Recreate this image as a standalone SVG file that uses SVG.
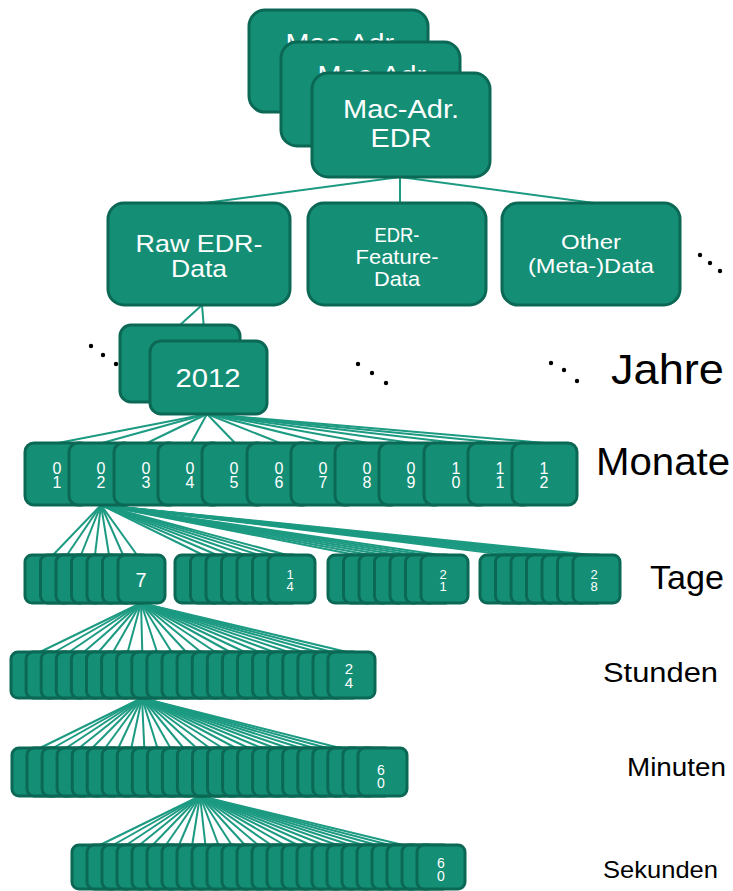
<svg xmlns="http://www.w3.org/2000/svg" width="733" height="891" viewBox="0 0 733 891">
  <style>
    .box { fill: #158e76; stroke: #0b6855; stroke-width: 3; }
    .ln { stroke: #1c9a82; stroke-width: 2; fill: none; }
    .w { fill: #ffffff; font-family: "Liberation Sans", Arial, sans-serif; text-anchor: middle; }
    .lbl { fill: #000000; font-family: "Liberation Sans", Arial, sans-serif; }
    .dot { fill: #000000; }
    /* two-digit numbers stacked one above the other */
    .v { writing-mode: vertical-rl; text-orientation: upright; letter-spacing: -3px; }
    .m { font-size: 16px; }
  </style>
  <rect width="733" height="891" fill="#ffffff"/>

  <!-- connectors -->
  <g id="connectors">
    <!-- root to data categories -->
    <line class="ln" x1="400" y1="177" x2="205" y2="203"/>
    <line class="ln" x1="400" y1="177" x2="400" y2="203"/>
    <line class="ln" x1="400" y1="177" x2="594" y2="203"/>
    <!-- raw data to years -->
    <line class="ln" x1="202" y1="305" x2="180" y2="325"/>
    <line class="ln" x1="202" y1="305" x2="205" y2="341"/>
    <!-- year to months -->
    <line class="ln" x1="207" y1="414" x2="58" y2="443"/>
    <line class="ln" x1="207" y1="414" x2="102" y2="443"/>
    <line class="ln" x1="207" y1="414" x2="147" y2="443"/>
    <line class="ln" x1="207" y1="414" x2="191" y2="443"/>
    <line class="ln" x1="207" y1="414" x2="235" y2="443"/>
    <line class="ln" x1="207" y1="414" x2="280" y2="443"/>
    <line class="ln" x1="207" y1="414" x2="324" y2="443"/>
    <line class="ln" x1="207" y1="414" x2="368" y2="443"/>
    <line class="ln" x1="207" y1="414" x2="412" y2="443"/>
    <line class="ln" x1="207" y1="414" x2="457" y2="443"/>
    <line class="ln" x1="207" y1="414" x2="501" y2="443"/>
    <line class="ln" x1="207" y1="414" x2="545" y2="443"/>
    <!-- month 02 to days -->
    <line class="ln" x1="101" y1="505" x2="53" y2="555"/>
    <line class="ln" x1="101" y1="505" x2="67" y2="555"/>
    <line class="ln" x1="101" y1="505" x2="81" y2="555"/>
    <line class="ln" x1="101" y1="505" x2="95" y2="555"/>
    <line class="ln" x1="101" y1="505" x2="109" y2="555"/>
    <line class="ln" x1="101" y1="505" x2="123" y2="555"/>
    <line class="ln" x1="101" y1="505" x2="137" y2="555"/>
    <line class="ln" x1="101" y1="505" x2="203" y2="555"/>
    <line class="ln" x1="101" y1="505" x2="217" y2="555"/>
    <line class="ln" x1="101" y1="505" x2="231" y2="555"/>
    <line class="ln" x1="101" y1="505" x2="245" y2="555"/>
    <line class="ln" x1="101" y1="505" x2="259" y2="555"/>
    <line class="ln" x1="101" y1="505" x2="273" y2="555"/>
    <line class="ln" x1="101" y1="505" x2="287" y2="555"/>
    <line class="ln" x1="101" y1="505" x2="356" y2="555"/>
    <line class="ln" x1="101" y1="505" x2="370" y2="555"/>
    <line class="ln" x1="101" y1="505" x2="384" y2="555"/>
    <line class="ln" x1="101" y1="505" x2="398" y2="555"/>
    <line class="ln" x1="101" y1="505" x2="412" y2="555"/>
    <line class="ln" x1="101" y1="505" x2="426" y2="555"/>
    <line class="ln" x1="101" y1="505" x2="440" y2="555"/>
    <line class="ln" x1="101" y1="505" x2="508" y2="555"/>
    <line class="ln" x1="101" y1="505" x2="522" y2="555"/>
    <line class="ln" x1="101" y1="505" x2="536" y2="555"/>
    <line class="ln" x1="101" y1="505" x2="550" y2="555"/>
    <line class="ln" x1="101" y1="505" x2="564" y2="555"/>
    <line class="ln" x1="101" y1="505" x2="578" y2="555"/>
    <line class="ln" x1="101" y1="505" x2="592" y2="555"/>
    <!-- day 7 to hours -->
    <line class="ln" x1="141" y1="603" x2="40" y2="652"/>
    <line class="ln" x1="141" y1="603" x2="54.6" y2="652"/>
    <line class="ln" x1="141" y1="603" x2="69.2" y2="652"/>
    <line class="ln" x1="141" y1="603" x2="83.9" y2="652"/>
    <line class="ln" x1="141" y1="603" x2="98.5" y2="652"/>
    <line class="ln" x1="141" y1="603" x2="113.1" y2="652"/>
    <line class="ln" x1="141" y1="603" x2="127.7" y2="652"/>
    <line class="ln" x1="141" y1="603" x2="142.3" y2="652"/>
    <line class="ln" x1="141" y1="603" x2="157" y2="652"/>
    <line class="ln" x1="141" y1="603" x2="171.6" y2="652"/>
    <line class="ln" x1="141" y1="603" x2="186.2" y2="652"/>
    <line class="ln" x1="141" y1="603" x2="200.8" y2="652"/>
    <line class="ln" x1="141" y1="603" x2="215.4" y2="652"/>
    <line class="ln" x1="141" y1="603" x2="230.1" y2="652"/>
    <line class="ln" x1="141" y1="603" x2="244.7" y2="652"/>
    <line class="ln" x1="141" y1="603" x2="259.3" y2="652"/>
    <line class="ln" x1="141" y1="603" x2="273.9" y2="652"/>
    <line class="ln" x1="141" y1="603" x2="288.5" y2="652"/>
    <line class="ln" x1="141" y1="603" x2="303.2" y2="652"/>
    <line class="ln" x1="141" y1="603" x2="317.8" y2="652"/>
    <line class="ln" x1="141" y1="603" x2="332.4" y2="652"/>
    <line class="ln" x1="141" y1="603" x2="347" y2="652"/>
    <!-- hour to minutes -->
    <line class="ln" x1="142" y1="698" x2="40" y2="748"/>
    <line class="ln" x1="142" y1="698" x2="53" y2="748"/>
    <line class="ln" x1="142" y1="698" x2="66.1" y2="748"/>
    <line class="ln" x1="142" y1="698" x2="79.1" y2="748"/>
    <line class="ln" x1="142" y1="698" x2="92.2" y2="748"/>
    <line class="ln" x1="142" y1="698" x2="105.2" y2="748"/>
    <line class="ln" x1="142" y1="698" x2="118.3" y2="748"/>
    <line class="ln" x1="142" y1="698" x2="131.3" y2="748"/>
    <line class="ln" x1="142" y1="698" x2="144.3" y2="748"/>
    <line class="ln" x1="142" y1="698" x2="157.4" y2="748"/>
    <line class="ln" x1="142" y1="698" x2="170.4" y2="748"/>
    <line class="ln" x1="142" y1="698" x2="183.5" y2="748"/>
    <line class="ln" x1="142" y1="698" x2="196.5" y2="748"/>
    <line class="ln" x1="142" y1="698" x2="209.6" y2="748"/>
    <line class="ln" x1="142" y1="698" x2="222.6" y2="748"/>
    <line class="ln" x1="142" y1="698" x2="235.7" y2="748"/>
    <line class="ln" x1="142" y1="698" x2="248.7" y2="748"/>
    <line class="ln" x1="142" y1="698" x2="261.7" y2="748"/>
    <line class="ln" x1="142" y1="698" x2="274.8" y2="748"/>
    <line class="ln" x1="142" y1="698" x2="287.8" y2="748"/>
    <line class="ln" x1="142" y1="698" x2="300.9" y2="748"/>
    <line class="ln" x1="142" y1="698" x2="313.9" y2="748"/>
    <line class="ln" x1="142" y1="698" x2="327" y2="748"/>
    <line class="ln" x1="142" y1="698" x2="340" y2="748"/>
    <!-- minute to seconds -->
    <line class="ln" x1="200" y1="796" x2="100" y2="845"/>
    <line class="ln" x1="200" y1="796" x2="113.2" y2="845"/>
    <line class="ln" x1="200" y1="796" x2="126.3" y2="845"/>
    <line class="ln" x1="200" y1="796" x2="139.5" y2="845"/>
    <line class="ln" x1="200" y1="796" x2="152.7" y2="845"/>
    <line class="ln" x1="200" y1="796" x2="165.9" y2="845"/>
    <line class="ln" x1="200" y1="796" x2="179" y2="845"/>
    <line class="ln" x1="200" y1="796" x2="192.2" y2="845"/>
    <line class="ln" x1="200" y1="796" x2="205.4" y2="845"/>
    <line class="ln" x1="200" y1="796" x2="218.5" y2="845"/>
    <line class="ln" x1="200" y1="796" x2="231.7" y2="845"/>
    <line class="ln" x1="200" y1="796" x2="244.9" y2="845"/>
    <line class="ln" x1="200" y1="796" x2="258" y2="845"/>
    <line class="ln" x1="200" y1="796" x2="271.2" y2="845"/>
    <line class="ln" x1="200" y1="796" x2="284.4" y2="845"/>
    <line class="ln" x1="200" y1="796" x2="297.6" y2="845"/>
    <line class="ln" x1="200" y1="796" x2="310.7" y2="845"/>
    <line class="ln" x1="200" y1="796" x2="323.9" y2="845"/>
    <line class="ln" x1="200" y1="796" x2="337.1" y2="845"/>
    <line class="ln" x1="200" y1="796" x2="350.2" y2="845"/>
    <line class="ln" x1="200" y1="796" x2="363.4" y2="845"/>
    <line class="ln" x1="200" y1="796" x2="376.6" y2="845"/>
    <line class="ln" x1="200" y1="796" x2="389.7" y2="845"/>
    <line class="ln" x1="200" y1="796" x2="403" y2="845"/>
  </g>

  <!-- root stack -->
  <g id="mac1">
    <rect class="box" x="249" y="10" width="179" height="102" rx="16"/>
    <text class="w" x="343" y="52" font-size="26" textLength="115" lengthAdjust="spacingAndGlyphs">Mac-Adr.</text>
  </g>
  <g id="mac2">
    <rect class="box" x="281" y="42" width="179" height="104" rx="16"/>
    <text class="w" x="375" y="84" font-size="26" textLength="115" lengthAdjust="spacingAndGlyphs">Mac-Adr.</text>
  </g>
  <g id="mac3">
    <rect class="box" x="312" y="73" width="178" height="104" rx="16"/>
    <text class="w" x="401" y="118" font-size="26" textLength="116" lengthAdjust="spacingAndGlyphs">Mac-Adr.</text>
    <text class="w" x="401" y="147" font-size="26" textLength="61" lengthAdjust="spacingAndGlyphs">EDR</text>
  </g>

  <!-- data categories -->
  <g id="raw">
    <rect class="box" x="108" y="203" width="182" height="102" rx="16"/>
    <text class="w" x="199" y="252" font-size="24" textLength="127" lengthAdjust="spacingAndGlyphs">Raw EDR-</text>
    <text class="w" x="199" y="277" font-size="24" textLength="56" lengthAdjust="spacingAndGlyphs">Data</text>
  </g>
  <g id="feature">
    <rect class="box" x="308" y="203" width="178" height="102" rx="16"/>
    <text class="w" x="397" y="242" font-size="21" textLength="45" lengthAdjust="spacingAndGlyphs">EDR-</text>
    <text class="w" x="397" y="264" font-size="21" textLength="83" lengthAdjust="spacingAndGlyphs">Feature-</text>
    <text class="w" x="397" y="286" font-size="21" textLength="46" lengthAdjust="spacingAndGlyphs">Data</text>
  </g>
  <g id="other">
    <rect class="box" x="502" y="203" width="178" height="102" rx="16"/>
    <text class="w" x="591" y="249" font-size="21" textLength="60" lengthAdjust="spacingAndGlyphs">Other</text>
    <text class="w" x="591" y="273" font-size="21" textLength="126" lengthAdjust="spacingAndGlyphs">(Meta-)Data</text>
  </g>
  <g id="more-categories">
    <circle class="dot" cx="700" cy="255" r="2.2"/>
    <circle class="dot" cx="710" cy="263" r="2.2"/>
    <circle class="dot" cx="720" cy="271" r="2.2"/>
  </g>

  <!-- years -->
  <g id="year-prev">
    <rect class="box" x="120" y="325" width="120" height="77" rx="11"/>
  </g>
  <g id="year-2012">
    <rect class="box" x="150" y="341" width="117" height="73" rx="11"/>
    <text class="w" x="208" y="387" font-size="25" textLength="65" lengthAdjust="spacingAndGlyphs">2012</text>
  </g>
  <g id="year-dots">
    <circle class="dot" cx="91" cy="346" r="2.2"/>
    <circle class="dot" cx="103" cy="355" r="2.2"/>
    <circle class="dot" cx="116" cy="364" r="2.2"/>
    <circle class="dot" cx="358" cy="364" r="2.2"/>
    <circle class="dot" cx="372" cy="373" r="2.2"/>
    <circle class="dot" cx="386" cy="383" r="2.2"/>
    <circle class="dot" cx="551" cy="363" r="2.2"/>
    <circle class="dot" cx="564" cy="370" r="2.2"/>
    <circle class="dot" cx="577" cy="381" r="2.2"/>
  </g>

  <!-- months -->
  <g id="months">
    <rect class="box" x="25" y="443" width="65" height="62" rx="9"/>
    <text class="w m v" x="57" y="474">01</text>
    <rect class="box" x="69" y="443" width="65" height="62" rx="9"/>
    <text class="w m v" x="101" y="474">02</text>
    <rect class="box" x="114" y="443" width="65" height="62" rx="9"/>
    <text class="w m v" x="146" y="474">03</text>
    <rect class="box" x="158" y="443" width="65" height="62" rx="9"/>
    <text class="w m v" x="190" y="474">04</text>
    <rect class="box" x="202" y="443" width="65" height="62" rx="9"/>
    <text class="w m v" x="234" y="474">05</text>
    <rect class="box" x="247" y="443" width="65" height="62" rx="9"/>
    <text class="w m v" x="279" y="474">06</text>
    <rect class="box" x="291" y="443" width="65" height="62" rx="9"/>
    <text class="w m v" x="323" y="474">07</text>
    <rect class="box" x="335" y="443" width="65" height="62" rx="9"/>
    <text class="w m v" x="367" y="474">08</text>
    <rect class="box" x="379" y="443" width="65" height="62" rx="9"/>
    <text class="w m v" x="411" y="474">09</text>
    <rect class="box" x="424" y="443" width="65" height="62" rx="9"/>
    <text class="w m v" x="456" y="474">10</text>
    <rect class="box" x="468" y="443" width="65" height="62" rx="9"/>
    <text class="w m v" x="500" y="474">11</text>
    <rect class="box" x="512" y="443" width="65" height="62" rx="9"/>
    <text class="w m v" x="544" y="474">12</text>
  </g>

  <!-- days -->
  <g id="days-7">
    <rect class="box" x="25" y="555" width="47" height="48" rx="7"/>
    <rect class="box" x="40.5" y="555" width="47" height="48" rx="7"/>
    <rect class="box" x="56" y="555" width="47" height="48" rx="7"/>
    <rect class="box" x="71.5" y="555" width="47" height="48" rx="7"/>
    <rect class="box" x="87" y="555" width="47" height="48" rx="7"/>
    <rect class="box" x="102.5" y="555" width="47" height="48" rx="7"/>
    <rect class="box" x="118" y="555" width="47" height="48" rx="7"/>
    <text class="w" x="141" y="587" font-size="20">7</text>
  </g>
  <g id="days-14">
    <rect class="box" x="175" y="555" width="47" height="48" rx="7"/>
    <rect class="box" x="190.5" y="555" width="47" height="48" rx="7"/>
    <rect class="box" x="206" y="555" width="47" height="48" rx="7"/>
    <rect class="box" x="221.5" y="555" width="47" height="48" rx="7"/>
    <rect class="box" x="237" y="555" width="47" height="48" rx="7"/>
    <rect class="box" x="252.5" y="555" width="47" height="48" rx="7"/>
    <rect class="box" x="268" y="555" width="47" height="48" rx="7"/>
    <text class="w v" x="290" y="579" font-size="13">14</text>
  </g>
  <g id="days-21">
    <rect class="box" x="328" y="555" width="47" height="48" rx="7"/>
    <rect class="box" x="343.5" y="555" width="47" height="48" rx="7"/>
    <rect class="box" x="359" y="555" width="47" height="48" rx="7"/>
    <rect class="box" x="374.5" y="555" width="47" height="48" rx="7"/>
    <rect class="box" x="390" y="555" width="47" height="48" rx="7"/>
    <rect class="box" x="405.5" y="555" width="47" height="48" rx="7"/>
    <rect class="box" x="421" y="555" width="47" height="48" rx="7"/>
    <text class="w v" x="443" y="579" font-size="13">21</text>
  </g>
  <g id="days-28">
    <rect class="box" x="480" y="555" width="47" height="48" rx="7"/>
    <rect class="box" x="495.5" y="555" width="47" height="48" rx="7"/>
    <rect class="box" x="511" y="555" width="47" height="48" rx="7"/>
    <rect class="box" x="526.5" y="555" width="47" height="48" rx="7"/>
    <rect class="box" x="542" y="555" width="47" height="48" rx="7"/>
    <rect class="box" x="557.5" y="555" width="47" height="48" rx="7"/>
    <rect class="box" x="573" y="555" width="47" height="48" rx="7"/>
    <text class="w v" x="594" y="579" font-size="13">28</text>
  </g>

  <!-- hours -->
  <g id="hours">
    <rect class="box" x="11" y="652" width="47" height="46" rx="7"/>
    <rect class="box" x="26.1" y="652" width="47" height="46" rx="7"/>
    <rect class="box" x="41.2" y="652" width="47" height="46" rx="7"/>
    <rect class="box" x="56.3" y="652" width="47" height="46" rx="7"/>
    <rect class="box" x="71.4" y="652" width="47" height="46" rx="7"/>
    <rect class="box" x="86.5" y="652" width="47" height="46" rx="7"/>
    <rect class="box" x="101.6" y="652" width="47" height="46" rx="7"/>
    <rect class="box" x="116.7" y="652" width="47" height="46" rx="7"/>
    <rect class="box" x="131.8" y="652" width="47" height="46" rx="7"/>
    <rect class="box" x="146.9" y="652" width="47" height="46" rx="7"/>
    <rect class="box" x="162" y="652" width="47" height="46" rx="7"/>
    <rect class="box" x="177.1" y="652" width="47" height="46" rx="7"/>
    <rect class="box" x="192.2" y="652" width="47" height="46" rx="7"/>
    <rect class="box" x="207.3" y="652" width="47" height="46" rx="7"/>
    <rect class="box" x="222.4" y="652" width="47" height="46" rx="7"/>
    <rect class="box" x="237.5" y="652" width="47" height="46" rx="7"/>
    <rect class="box" x="252.6" y="652" width="47" height="46" rx="7"/>
    <rect class="box" x="267.7" y="652" width="47" height="46" rx="7"/>
    <rect class="box" x="282.8" y="652" width="47" height="46" rx="7"/>
    <rect class="box" x="297.9" y="652" width="47" height="46" rx="7"/>
    <rect class="box" x="313" y="652" width="47" height="46" rx="7"/>
    <rect class="box" x="328" y="652" width="47" height="46" rx="7"/>
    <text class="w v" x="349" y="674" font-size="15">24</text>
  </g>

  <!-- minutes -->
  <g id="minutes">
    <rect class="box" x="12" y="748" width="49" height="48" rx="7"/>
    <rect class="box" x="27" y="748" width="49" height="48" rx="7"/>
    <rect class="box" x="42.1" y="748" width="49" height="48" rx="7"/>
    <rect class="box" x="57.1" y="748" width="49" height="48" rx="7"/>
    <rect class="box" x="72.2" y="748" width="49" height="48" rx="7"/>
    <rect class="box" x="87.2" y="748" width="49" height="48" rx="7"/>
    <rect class="box" x="102.2" y="748" width="49" height="48" rx="7"/>
    <rect class="box" x="117.3" y="748" width="49" height="48" rx="7"/>
    <rect class="box" x="132.3" y="748" width="49" height="48" rx="7"/>
    <rect class="box" x="147.4" y="748" width="49" height="48" rx="7"/>
    <rect class="box" x="162.4" y="748" width="49" height="48" rx="7"/>
    <rect class="box" x="177.4" y="748" width="49" height="48" rx="7"/>
    <rect class="box" x="192.5" y="748" width="49" height="48" rx="7"/>
    <rect class="box" x="207.5" y="748" width="49" height="48" rx="7"/>
    <rect class="box" x="222.6" y="748" width="49" height="48" rx="7"/>
    <rect class="box" x="237.6" y="748" width="49" height="48" rx="7"/>
    <rect class="box" x="252.6" y="748" width="49" height="48" rx="7"/>
    <rect class="box" x="267.7" y="748" width="49" height="48" rx="7"/>
    <rect class="box" x="282.7" y="748" width="49" height="48" rx="7"/>
    <rect class="box" x="297.8" y="748" width="49" height="48" rx="7"/>
    <rect class="box" x="312.8" y="748" width="49" height="48" rx="7"/>
    <rect class="box" x="327.8" y="748" width="49" height="48" rx="7"/>
    <rect class="box" x="342.9" y="748" width="49" height="48" rx="7"/>
    <rect class="box" x="358" y="748" width="49" height="48" rx="7"/>
    <text class="w v" x="381" y="775" font-size="14">60</text>
  </g>

  <!-- seconds -->
  <g id="seconds">
    <rect class="box" x="72" y="845" width="48" height="44" rx="7"/>
    <rect class="box" x="87" y="845" width="48" height="44" rx="7"/>
    <rect class="box" x="102" y="845" width="48" height="44" rx="7"/>
    <rect class="box" x="117" y="845" width="48" height="44" rx="7"/>
    <rect class="box" x="132" y="845" width="48" height="44" rx="7"/>
    <rect class="box" x="147" y="845" width="48" height="44" rx="7"/>
    <rect class="box" x="162" y="845" width="48" height="44" rx="7"/>
    <rect class="box" x="177" y="845" width="48" height="44" rx="7"/>
    <rect class="box" x="192" y="845" width="48" height="44" rx="7"/>
    <rect class="box" x="207" y="845" width="48" height="44" rx="7"/>
    <rect class="box" x="222" y="845" width="48" height="44" rx="7"/>
    <rect class="box" x="237" y="845" width="48" height="44" rx="7"/>
    <rect class="box" x="252" y="845" width="48" height="44" rx="7"/>
    <rect class="box" x="267" y="845" width="48" height="44" rx="7"/>
    <rect class="box" x="282" y="845" width="48" height="44" rx="7"/>
    <rect class="box" x="297" y="845" width="48" height="44" rx="7"/>
    <rect class="box" x="312" y="845" width="48" height="44" rx="7"/>
    <rect class="box" x="327" y="845" width="48" height="44" rx="7"/>
    <rect class="box" x="342" y="845" width="48" height="44" rx="7"/>
    <rect class="box" x="357" y="845" width="48" height="44" rx="7"/>
    <rect class="box" x="372" y="845" width="48" height="44" rx="7"/>
    <rect class="box" x="387" y="845" width="48" height="44" rx="7"/>
    <rect class="box" x="402" y="845" width="48" height="44" rx="7"/>
    <rect class="box" x="417" y="845" width="48" height="44" rx="7"/>
    <text class="w v" x="441" y="868" font-size="14">60</text>
  </g>

  <!-- level labels -->
  <g id="level-labels">
    <text class="lbl" x="611" y="384" font-size="43" textLength="113" lengthAdjust="spacingAndGlyphs">Jahre</text>
    <text class="lbl" x="596" y="475" font-size="38" textLength="134" lengthAdjust="spacingAndGlyphs">Monate</text>
    <text class="lbl" x="650" y="589" font-size="33" textLength="74" lengthAdjust="spacingAndGlyphs">Tage</text>
    <text class="lbl" x="603" y="682" font-size="27" textLength="115" lengthAdjust="spacingAndGlyphs">Stunden</text>
    <text class="lbl" x="627" y="776" font-size="25" textLength="99" lengthAdjust="spacingAndGlyphs">Minuten</text>
    <text class="lbl" x="603" y="878" font-size="24" textLength="115" lengthAdjust="spacingAndGlyphs">Sekunden</text>
  </g>
</svg>
